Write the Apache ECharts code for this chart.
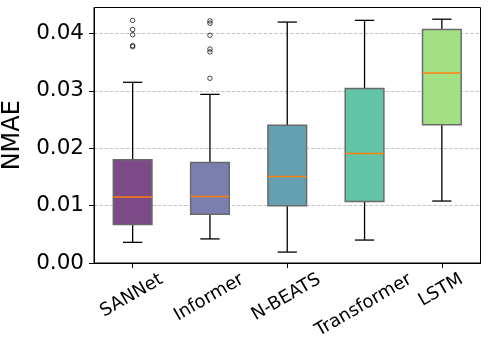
<!DOCTYPE html>
<html><head><meta charset="utf-8">
<script src="https://cdn.jsdelivr.net/npm/echarts@6/dist/echarts.min.js"></script>
<style>html,body{margin:0;padding:0;background:#fff}#c{width:489px;height:351px}</style>
</head><body><div id="c"></div>
<script>
const categories = ['SANNet', 'Informer', 'N-BEATS', 'Transformer', 'LSTM'];
const whiskerLow = [0.0036, 0.0042, 0.0019, 0.0040, 0.0108];
const q1 = [0.0067, 0.0085, 0.0100, 0.0107, 0.0241];
const median = [0.0115, 0.0116, 0.0151, 0.0191, 0.0331];
const q3 = [0.0180, 0.0175, 0.0240, 0.0304, 0.0407];
const whiskerHigh = [0.0315, 0.0294, 0.0420, 0.0423, 0.0425];
const outliersSANNet = [0.0423, 0.0407, 0.0398, 0.0379, 0.0377];
const outliersInformer = [0.0422, 0.0418, 0.0397, 0.0373, 0.0368, 0.0322];
const yTicks = [0, 0.01, 0.02, 0.03, 0.04];
const boxColors = ['#7c4a87', '#7a7fb0', '#65a0b0', '#62c3a7', '#a3df83'];

const FONT = '"DejaVu Sans", sans-serif';
const XFS = 18;
const XFONT = XFS + 'px "DejaVu Sans", sans-serif';
const ctx = document.createElement('canvas').getContext('2d');
ctx.font = XFONT;
const labelWidths = categories.map(t => ctx.measureText(t).width);

const boxData = categories.map((c, i) => [i, whiskerLow[i], q1[i], median[i], q3[i], whiskerHigh[i]]);
const outlierData = outliersSANNet.map(v => [0, v]).concat(outliersInformer.map(v => [1, v]));

const chart = echarts.init(document.getElementById('c'), null, { renderer: 'canvas' });
chart.setOption({
  animation: false,
  backgroundColor: '#fff',
  grid: { left: 94, right: 8.5, top: 7.5, bottom: 88, outerBoundsMode: 'none', containLabel: false, show: true, borderColor: '#000', borderWidth: 1, backgroundColor: 'transparent' },
  xAxis: {
    type: 'category',
    data: categories,
    boundaryGap: true,
    axisLine: { show: true, lineStyle: { color: '#000', width: 1 } },
    axisTick: { show: true, alignWithLabel: true, length: 5, lineStyle: { color: '#000' } },
    axisLabel: { show: false },
    splitLine: { show: false }
  },
  yAxis: {
    type: 'value',
    min: 0, max: 0.04454, interval: 0.01,
    name: 'NMAE', nameLocation: 'middle', nameGap: 59,
    nameTextStyle: { fontSize: 24, color: '#000', fontFamily: FONT },
    axisLine: { show: true, lineStyle: { color: '#000', width: 1 } },
    axisTick: { show: true, length: 5, lineStyle: { color: '#000' }, customValues: yTicks },
    axisLabel: { fontSize: 21.5, color: '#000', fontFamily: FONT, margin: 10, customValues: yTicks, formatter: v => v.toFixed(2) },
    splitLine: { show: true, lineStyle: { color: '#c4c4c4', type: [3.5, 1.8], width: 1 } }
  },
  series: [
    {
      type: 'custom',
      clip: false,
      data: boxData,
      encode: { x: 0, y: [1, 2, 3, 4, 5] },
      renderItem: function (params, api) {
        const i = api.value(0);
        const band = api.size([1, 0])[0];
        const bw = band * 0.5, cw = band * 0.25;
        const pLo = api.coord([i, api.value(1)]);
        const pQ1 = api.coord([i, api.value(2)]);
        const pMed = api.coord([i, api.value(3)]);
        const pQ3 = api.coord([i, api.value(4)]);
        const pHi = api.coord([i, api.value(5)]);
        const pBase = api.coord([i, 0]);
        const x = pMed[0];
        const wl = { stroke: '#000', lineWidth: 1.3 };
        return {
          type: 'group',
          children: [
            { type: 'line', shape: { x1: x, y1: pQ1[1], x2: x, y2: pLo[1] }, style: wl },
            { type: 'line', shape: { x1: x, y1: pQ3[1], x2: x, y2: pHi[1] }, style: wl },
            { type: 'line', shape: { x1: x - cw / 2, y1: pLo[1], x2: x + cw / 2, y2: pLo[1] }, style: wl },
            { type: 'line', shape: { x1: x - cw / 2, y1: pHi[1], x2: x + cw / 2, y2: pHi[1] }, style: wl },
            { type: 'rect', shape: { x: x - bw / 2, y: pQ3[1], width: bw, height: pQ1[1] - pQ3[1] },
              style: { fill: boxColors[params.dataIndex], stroke: '#6a6a6a', lineWidth: 1.5 } },
            { type: 'line', shape: { x1: x - bw / 2, y1: pMed[1], x2: x + bw / 2, y2: pMed[1] },
              style: { stroke: '#ff7f0e', lineWidth: 1.5 } },
            { type: 'text', x: x - 1, y: pBase[1] + 15.3 + labelWidths[params.dataIndex] * 0.25,
              rotation: Math.PI / 6,
              style: { text: categories[params.dataIndex], font: XFONT, fill: '#000', align: 'center', verticalAlign: 'middle' } }
          ]
        };
      }
    },
    {
      type: 'scatter',
      data: outlierData,
      symbol: 'circle',
      symbolSize: 4.5,
      itemStyle: { color: 'rgba(0,0,0,0)', borderColor: '#000', borderWidth: 0.9 }
    }
  ]
});
</script></body></html>
